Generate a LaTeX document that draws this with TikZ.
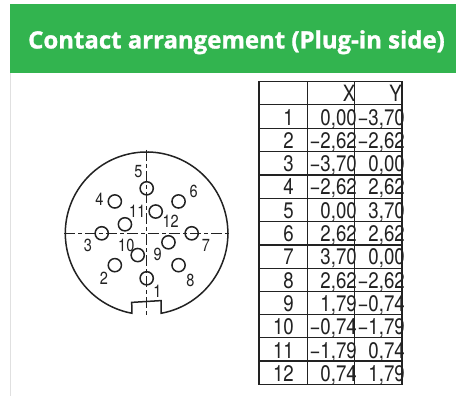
\documentclass[tikz,border=0pt]{standalone}
\usepackage{fontspec}
\usepackage{graphicx}
\usetikzlibrary{calc}
\setmainfont{TeX Gyre Heros}
\newfontfamily\titlefont[BoldFeatures={FakeBold=1.2}]{Open Sans}
\newfontfamily\tabfont{TeX Gyre Heros}
\newcommand{\narrowtxt}[1]{\scalebox{0.83}[1]{#1}}
\definecolor{banner}{HTML}{32B44F}
\definecolor{ink}{HTML}{222222}
\tikzset{
  titletext/.style={anchor=base west,inner sep=0pt,text=white,font=\titlefont\bfseries\fontsize{23.95}{26}\selectfont},
  cell/.style={anchor=base east,inner sep=0pt,text=ink,font=\tabfont\fontsize{22.5}{24}\selectfont},
  rule/.style={draw=ink,line width=1.4pt},
  outline/.style={draw=ink,line width=1.5pt},
  pin/.style={circle,draw=ink,line width=1.5pt,minimum size=13.2pt,inner sep=0pt},
  axis/.style={draw=ink,line width=0.8pt,dash pattern=on 11pt off 3pt on 4pt off 3pt},
  pinlabel/.style={inner sep=0pt,text=ink,font=\tabfont\fontsize{17.5}{18}\selectfont}
}
\begin{document}
\begin{tikzpicture}[x=1pt,y=-1pt]
\useasboundingbox (0,0) rectangle (456,396);
\fill[white] (0,0) rectangle (456,396);
\draw[black!12,line width=1pt] (10.5,73) -- (10.5,396);
\fill[banner] (10,4) rectangle (456,73);
\node[titletext] (title) at (28,48.5) {Contact arrangement (Plug-in side)};
\coordinate (c) at (146.7,233.3);
\coordinate (vt) at (146.7,150);
\coordinate (vb) at (146.7,317);
\coordinate (hl) at (64,233.3);
\coordinate (hr) at (230,233.3);
\draw[axis] (vt) -- (vb);
\draw[axis] (hl) -- (hr);
\draw[outline] (161,313.3) arc[start angle=79.8,end angle=-259.6,radius=81.3] -- (131.7,302.4) -- (161,300.6) -- cycle;
\foreach \n/\x/\y in {1/0/-3.70,2/-2.62/-2.62,3/-3.70/0,4/-2.62/2.62,5/0/3.70,6/2.62/2.62,7/3.70/0,8/2.62/-2.62,9/1.79/-0.74,10/-0.74/-1.79,11/-1.79/0.74,12/0.74/1.79}
  \node[pin] (p\n) at ($(c)+(12.16*\x,-12.16*\y)$) {};
\foreach \n/\x/\y in {1/157.3/291.7,2/104/278.3,3/88/245.3,4/99.3/199.3,5/138.3/171.7,6/193.7/191,7/206/245.7,8/190.3/280,9/157.7/254.3,10/126.3/245,11/137.3/211.7,12/170.7/221.7}
  \node[pinlabel] (l\n) at (\x,\y) {\narrowtxt{\n}};
\draw[rule] (259,81.7) rectangle (402,384.3);
\draw[rule] (307.3,81.7) -- (307.3,384.3);
\draw[rule] (354.7,81.7) -- (354.7,384.3);
\foreach \yy in {104.7,128.3,151.7,175,198.3,221.7,245,268.3,291.3,314.3,337.7,361}
  \draw[rule,line width=1.1pt] (259,\yy) -- (402,\yy);
\node[cell] (hx) at (355.5,101.5) {\narrowtxt{X}};
\node[cell] (hy) at (402,101.5) {\narrowtxt{Y}};
\foreach \i/\a/\b/\yy in {1/{0,00}/{−3,70}/125,2/{−2,62}/{−2,62}/148.3,3/{−3,70}/{0,00}/171.7,4/{−2,62}/{2,62}/195,5/{0,00}/{3,70}/218.3,6/{2,62}/{2,62}/241.7,7/{3,70}/{0,00}/265,8/{2,62}/{−2,62}/288.3,9/{1,79}/{−0,74}/311.3,10/{−0,74}/{−1,79}/334.7,11/{−1,79}/{0,74}/358,12/{0,74}/{1,79}/381}{
  \node[cell] (n\i) at (294,\yy) {\narrowtxt{\i}};
  \node[cell] (x\i) at (357,\yy) {\narrowtxt{\a}};
  \node[cell] (y\i) at (405,\yy) {\narrowtxt{\b}};
}
\end{tikzpicture}
\end{document}
